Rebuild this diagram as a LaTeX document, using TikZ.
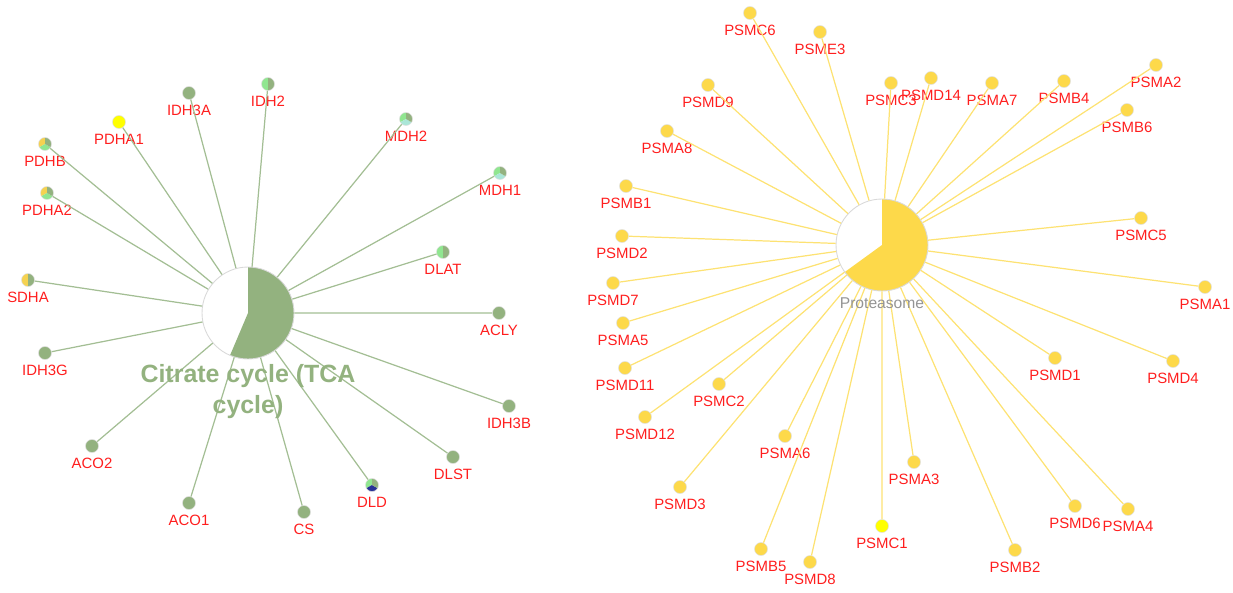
\documentclass[tikz,border=0pt]{standalone}
\usepackage{fontspec}
\setmainfont{Liberation Sans}
\usepackage{xcolor}
\usetikzlibrary{positioning}

\definecolor{tcagreen}{RGB}{147,178,127}
\definecolor{tcaline}{RGB}{163,190,148}
\definecolor{lightgreen}{RGB}{144,230,144}
\definecolor{turq}{RGB}{170,230,215}
\definecolor{pieyellow}{RGB}{245,210,80}
\definecolor{darkblue}{RGB}{40,50,150}
\definecolor{protyellow}{RGB}{253,217,74}
\definecolor{protline}{RGB}{253,226,115}
\definecolor{brightyellow}{RGB}{255,255,0}
\definecolor{labelred}{RGB}{255,30,30}

\begin{document}
\begin{tikzpicture}[x=0.02cm,y=-0.02cm,node distance=2.8pt,
    gene node/.style={circle,minimum size=0.26cm,inner sep=0pt,draw=black!12,line width=0.3pt},
    tca node/.style={gene node,fill=tcagreen},
    prot node/.style={gene node,fill=protyellow},
    pie two/.style 2 args={gene node,path picture={
        \fill[#1] (path picture bounding box.center) -- ++(90:4mm) arc[start angle=90,end angle=270,radius=4mm] -- cycle;
        \fill[#2] (path picture bounding box.center) -- ++(-90:4mm) arc[start angle=-90,end angle=90,radius=4mm] -- cycle;}},
    pie three/.style n args={3}{gene node,path picture={
        \fill[#1] (path picture bounding box.center) -- ++(90:4mm) arc[start angle=90,end angle=210,radius=4mm] -- cycle;
        \fill[#2] (path picture bounding box.center) -- ++(210:4mm) arc[start angle=210,end angle=330,radius=4mm] -- cycle;
        \fill[#3] (path picture bounding box.center) -- ++(330:4mm) arc[start angle=330,end angle=450,radius=4mm] -- cycle;}},
    gene label/.style={font=\fontsize{8.5}{10}\selectfont,text=labelred,inner sep=0pt,text height=6.1pt,text depth=0pt},
    tca edge/.style={draw=tcaline,line width=0.7pt},
    prot edge/.style={draw=protline,line width=0.7pt},
    hub node/.style={circle,minimum size=1.84cm,inner sep=0pt,draw=black!15,line width=0.5pt,fill=white}]
  \useasboundingbox (0,0) rectangle (1233,592);

  % Hubs
  \node[hub node,path picture={\fill[tcagreen] (path picture bounding box.center) -- ++(90:1cm)
        arc[start angle=90,end angle=-113,radius=1cm] -- cycle;}] (tca) at (248,313) {};
  \node[hub node,path picture={\fill[protyellow] (path picture bounding box.center) -- ++(90:1cm)
        arc[start angle=90,end angle=-144,radius=1cm] -- cycle;}] (prot) at (882,245) {};

  % Citrate cycle nodes
  \node[tca node] (IDH3A) at (189,93) {};
  \node[pie two={lightgreen}{tcagreen}] (IDH2) at (268,84) {};
  \node[gene node,fill=brightyellow] (PDHA1) at (119,122) {};
  \node[pie three={pieyellow}{lightgreen}{tcagreen}] (PDHB) at (45,144) {};
  \node[pie three={pieyellow}{lightgreen}{tcagreen}] (PDHA2) at (47,193) {};
  \node[pie two={pieyellow}{tcagreen}] (SDHA) at (28,280) {};
  \node[tca node] (IDH3G) at (45,353) {};
  \node[tca node] (ACO2) at (92,446) {};
  \node[tca node] (ACO1) at (189,503) {};
  \node[tca node] (CS) at (304,512) {};
  \node[pie three={lightgreen}{darkblue}{tcagreen}] (DLD) at (372,485) {};
  \node[tca node] (DLST) at (453,457) {};
  \node[tca node] (IDH3B) at (509,406) {};
  \node[tca node] (ACLY) at (499,313) {};
  \node[pie two={lightgreen}{tcagreen}] (DLAT) at (443,252) {};
  \node[pie three={lightgreen}{turq}{tcagreen}] (MDH1) at (500,173) {};
  \node[pie three={lightgreen}{turq}{tcagreen}] (MDH2) at (406,119) {};

  % Proteasome nodes
  \node[prot node] (PSMC6) at (750,13) {};
  \node[prot node] (PSME3) at (820,32) {};
  \node[prot node] (PSMD9) at (708,85) {};
  \node[prot node] (PSMA8) at (667,131) {};
  \node[prot node] (PSMB1) at (626,186) {};
  \node[prot node] (PSMD2) at (622,236) {};
  \node[prot node] (PSMD7) at (613,283) {};
  \node[prot node] (PSMA5) at (623,323) {};
  \node[prot node] (PSMD11) at (625,368) {};
  \node[prot node] (PSMC2) at (719,384) {};
  \node[prot node] (PSMD12) at (645,417) {};
  \node[prot node] (PSMA6) at (785,436) {};
  \node[prot node] (PSMD3) at (680,487) {};
  \node[prot node] (PSMA3) at (914,462) {};
  \node[gene node,fill=brightyellow] (PSMC1) at (882,526) {};
  \node[prot node] (PSMB5) at (761,549) {};
  \node[prot node] (PSMD8) at (810,562) {};
  \node[prot node] (PSMB2) at (1015,550) {};
  \node[prot node] (PSMD6) at (1075,506) {};
  \node[prot node] (PSMA4) at (1128,509) {};
  \node[prot node] (PSMD4) at (1173,361) {};
  \node[prot node] (PSMD1) at (1055,358) {};
  \node[prot node] (PSMA1) at (1205,287) {};
  \node[prot node] (PSMC5) at (1141,218) {};
  \node[prot node] (PSMB6) at (1127,110) {};
  \node[prot node] (PSMA2) at (1156,65) {};
  \node[prot node] (PSMB4) at (1064,81) {};
  \node[prot node] (PSMA7) at (992,83) {};
  \node[prot node] (PSMD14) at (931,78) {};
  \node[prot node] (PSMC3) at (891,83) {};

  % Labels
  \node[gene label,below=of IDH3A] (IDH3A-l) {IDH3A};
  \node[gene label,below=of IDH2] (IDH2-l) {IDH2};
  \node[gene label,below=of PDHA1] (PDHA1-l) {PDHA1};
  \node[gene label,below=of PDHB] (PDHB-l) {PDHB};
  \node[gene label,below=of PDHA2] (PDHA2-l) {PDHA2};
  \node[gene label,below=of SDHA] (SDHA-l) {SDHA};
  \node[gene label,below=of IDH3G] (IDH3G-l) {IDH3G};
  \node[gene label,below=of ACO2] (ACO2-l) {ACO2};
  \node[gene label,below=of ACO1] (ACO1-l) {ACO1};
  \node[gene label,below=of CS] (CS-l) {CS};
  \node[gene label,below=of DLD] (DLD-l) {DLD};
  \node[gene label,below=of DLST] (DLST-l) {DLST};
  \node[gene label,below=of IDH3B] (IDH3B-l) {IDH3B};
  \node[gene label,below=of ACLY] (ACLY-l) {ACLY};
  \node[gene label,below=of DLAT] (DLAT-l) {DLAT};
  \node[gene label,below=of MDH1] (MDH1-l) {MDH1};
  \node[gene label,below=of MDH2] (MDH2-l) {MDH2};
  \node[gene label,below=of PSMC6] (PSMC6-l) {PSMC6};
  \node[gene label,below=of PSME3] (PSME3-l) {PSME3};
  \node[gene label,below=of PSMD9] (PSMD9-l) {PSMD9};
  \node[gene label,below=of PSMA8] (PSMA8-l) {PSMA8};
  \node[gene label,below=of PSMB1] (PSMB1-l) {PSMB1};
  \node[gene label,below=of PSMD2] (PSMD2-l) {PSMD2};
  \node[gene label,below=of PSMD7] (PSMD7-l) {PSMD7};
  \node[gene label,below=of PSMA5] (PSMA5-l) {PSMA5};
  \node[gene label,below=of PSMD11] (PSMD11-l) {PSMD11};
  \node[gene label,below=of PSMC2] (PSMC2-l) {PSMC2};
  \node[gene label,below=of PSMD12] (PSMD12-l) {PSMD12};
  \node[gene label,below=of PSMA6] (PSMA6-l) {PSMA6};
  \node[gene label,below=of PSMD3] (PSMD3-l) {PSMD3};
  \node[gene label,below=of PSMA3] (PSMA3-l) {PSMA3};
  \node[gene label,below=of PSMC1] (PSMC1-l) {PSMC1};
  \node[gene label,below=of PSMB5] (PSMB5-l) {PSMB5};
  \node[gene label,below=of PSMD8] (PSMD8-l) {PSMD8};
  \node[gene label,below=of PSMB2] (PSMB2-l) {PSMB2};
  \node[gene label,below=of PSMD6] (PSMD6-l) {PSMD6};
  \node[gene label,below=of PSMA4] (PSMA4-l) {PSMA4};
  \node[gene label,below=of PSMD4] (PSMD4-l) {PSMD4};
  \node[gene label,below=of PSMD1] (PSMD1-l) {PSMD1};
  \node[gene label,below=of PSMA1] (PSMA1-l) {PSMA1};
  \node[gene label,below=of PSMC5] (PSMC5-l) {PSMC5};
  \node[gene label,below=of PSMB6] (PSMB6-l) {PSMB6};
  \node[gene label,below=of PSMA2] (PSMA2-l) {PSMA2};
  \node[gene label,below=of PSMB4] (PSMB4-l) {PSMB4};
  \node[gene label,below=of PSMA7] (PSMA7-l) {PSMA7};
  \node[gene label,below=of PSMD14] (PSMD14-l) {PSMD14};
  \node[gene label,below=of PSMC3] (PSMC3-l) {PSMC3};

  % Edges
  \draw[tca edge] (tca) -- (IDH3A) (tca) -- (IDH2) (tca) -- (PDHA1) (tca) -- (PDHB)
    (tca) -- (PDHA2) (tca) -- (SDHA) (tca) -- (IDH3G) (tca) -- (ACO2) (tca) -- (ACO1)
    (tca) -- (CS) (tca) -- (DLD) (tca) -- (DLST) (tca) -- (IDH3B) (tca) -- (ACLY)
    (tca) -- (DLAT) (tca) -- (MDH1) (tca) -- (MDH2);
  \draw[prot edge] (prot) -- (PSMC6) (prot) -- (PSME3) (prot) -- (PSMD9) (prot) -- (PSMA8)
    (prot) -- (PSMB1) (prot) -- (PSMD2) (prot) -- (PSMD7) (prot) -- (PSMA5) (prot) -- (PSMD11)
    (prot) -- (PSMC2) (prot) -- (PSMD12) (prot) -- (PSMA6) (prot) -- (PSMD3) (prot) -- (PSMA3)
    (prot) -- (PSMC1) (prot) -- (PSMB5) (prot) -- (PSMD8) (prot) -- (PSMB2) (prot) -- (PSMD6)
    (prot) -- (PSMA4) (prot) -- (PSMD4) (prot) -- (PSMD1) (prot) -- (PSMA1) (prot) -- (PSMC5)
    (prot) -- (PSMB6) (prot) -- (PSMA2) (prot) -- (PSMB4) (prot) -- (PSMA7) (prot) -- (PSMD14)
    (prot) -- (PSMC3);

  % Hub titles
  \node[font=\bfseries\fontsize{14.2}{17.6}\selectfont,text=tcagreen,align=center,inner sep=0pt]
    (tca-l) at (248,392) {Citrate cycle (TCA\\cycle)};
  \node[font=\fontsize{8.9}{10}\selectfont,text=black!42,inner sep=0pt] (prot-l) at (882,303) {Proteasome};
\end{tikzpicture}
\end{document}
